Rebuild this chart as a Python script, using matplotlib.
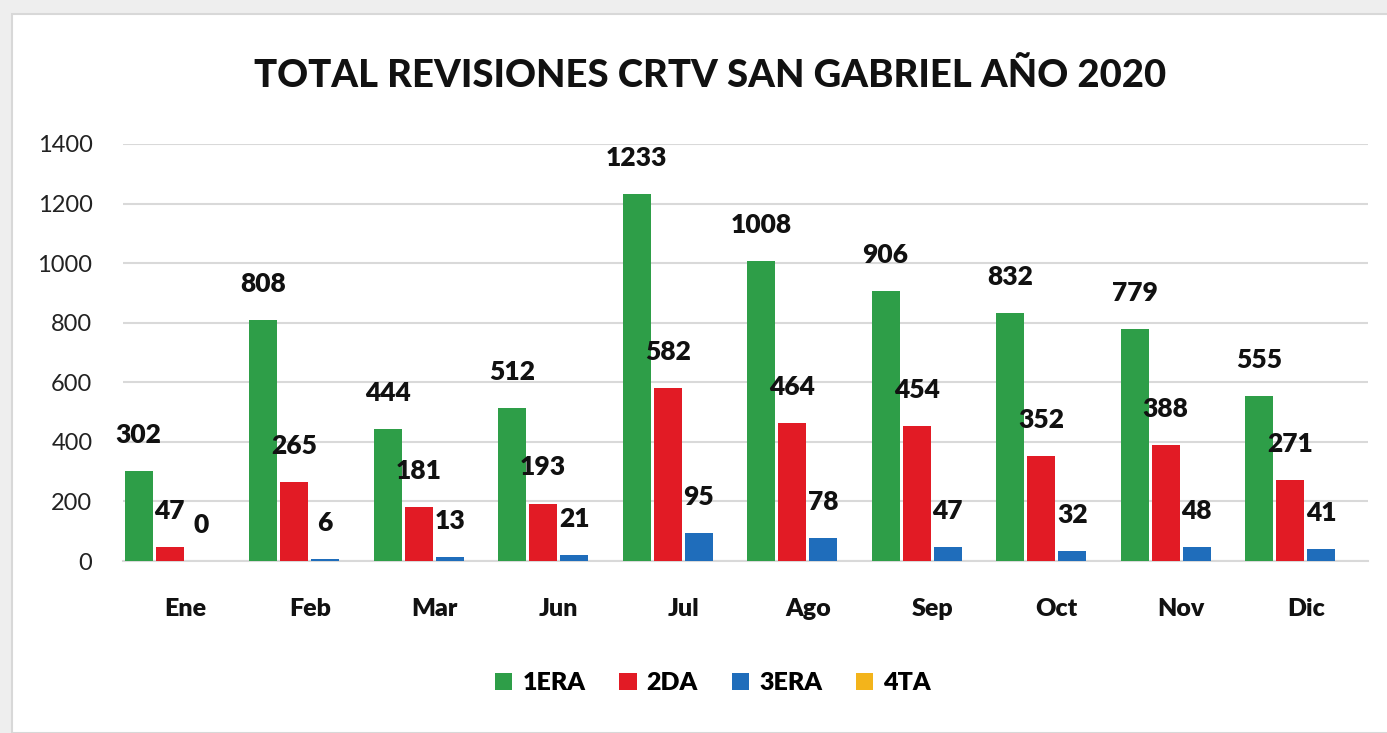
import matplotlib
matplotlib.use("Agg")
import matplotlib.pyplot as plt
from matplotlib.patches import Rectangle
import numpy as np

months = ["Ene", "Feb", "Mar", "Jun", "Jul", "Ago", "Sep", "Oct", "Nov", "Dic"]
series_names = ["1ERA", "2DA", "3ERA", "4TA"]
primera = [302, 808, 444, 512, 1233, 1008, 906, 832, 779, 555]
segunda = [47, 265, 181, 193, 582, 464, 454, 352, 388, 271]
tercera = [0, 6, 13, 21, 95, 78, 47, 32, 48, 41]
cuarta = [0, 0, 0, 0, 0, 0, 0, 0, 0, 0]
yticks = [0, 200, 400, 600, 800, 1000, 1200, 1400]

colors = ["#2E9E48", "#E21B25", "#1F6DBB", "#F3B41B"]
show_labels = [True, True, True, False]

plt.rcParams['font.family'] = ['Lato', 'DejaVu Sans']

fig = plt.figure(figsize=(13.87, 7.33), dpi=100)
fig.patch.set_facecolor("#EEEEEE")
panel = Rectangle((12 / 1387, 0), 1.0, 1 - 14 / 733, transform=fig.transFigure,
                  facecolor="white", edgecolor="#D8D8D8", linewidth=1.5, zorder=-10)
fig.patches.append(panel)

ax = fig.add_axes([123 / 1387, 1 - 561 / 733, (1368 - 123) / 1387, (561 - 144) / 733])
ax.set_facecolor("none")
ax.set_zorder(2)

x = np.arange(len(months))
step = 0.25
width = 0.225
data = [primera, segunda, tercera, cuarta]
for i, (vals, c, name, lab) in enumerate(zip(data, colors, series_names, show_labels)):
    pos = x + (i - 1.5) * step
    ax.bar(pos, vals, width=width, color=c, label=name, zorder=3)
    if lab:
        for p, v in zip(pos, vals):
            ax.annotate(str(v), (p, v), xytext=(0, 26), textcoords="offset points",
                        ha="center", va="center", fontsize=19, fontweight="heavy",
                        color="#111111", zorder=5)

ax.set_xlim(-0.5, len(months) - 0.5)
ax.set_ylim(0, 1400)
ax.set_yticks(yticks)
ax.set_yticklabels([str(t) for t in yticks], fontsize=17, color="#222222")
ax.set_xticks(x)
ax.set_xticklabels(months, fontsize=18, fontweight="heavy", color="#111111")
ax.tick_params(axis="both", length=0)
ax.tick_params(axis="x", pad=27)
ax.tick_params(axis="y", pad=22)
ax.grid(axis="y", color="#D9D9D9", linewidth=1.5, zorder=0)
ax.set_axisbelow(True)
for s in ["top", "right", "left"]:
    ax.spines[s].set_visible(False)
ax.spines["bottom"].set_color("#D9D9D9")
ax.spines["bottom"].set_linewidth(1.5)

fig.text(0.512, 1 - 76 / 733, "TOTAL REVISIONES CRTV SAN GABRIEL AÑO 2020",
         ha="center", va="center", fontsize=27.5, fontweight="black", color="#111111")

fig.legend(loc="center", bbox_to_anchor=(713 / 1387, 1 - 683 / 733), ncol=4,
           frameon=False, handlelength=0.7, handleheight=0.7,
           handletextpad=0.4, columnspacing=1.35, prop={"weight": "heavy", "size": 18})

fig.savefig("out.png", dpi=100, facecolor=fig.get_facecolor())
